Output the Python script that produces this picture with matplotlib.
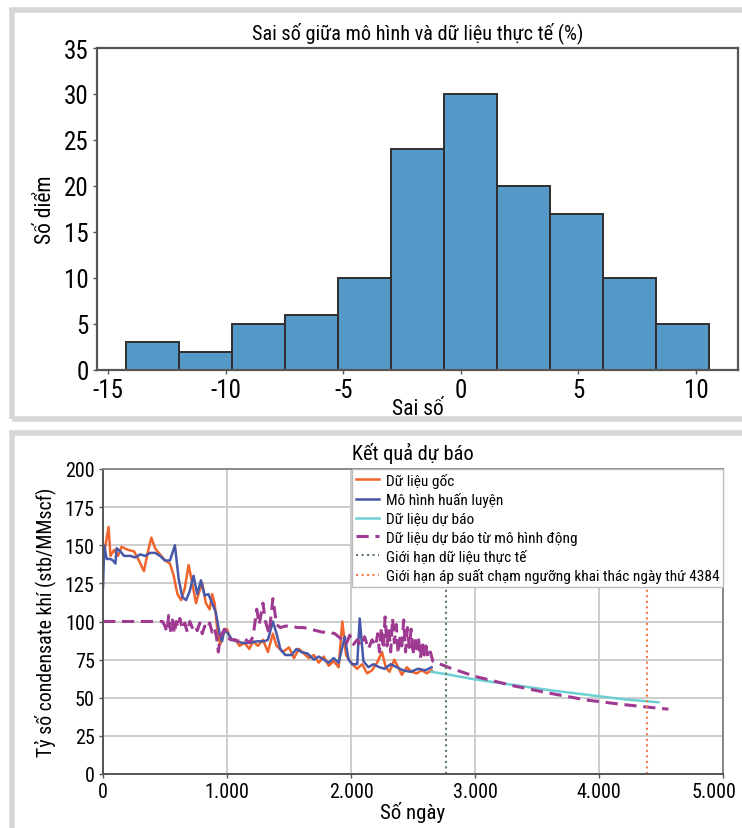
import matplotlib
matplotlib.use("Agg")
import matplotlib.pyplot as plt
from matplotlib import font_manager
from matplotlib.patches import Rectangle
from matplotlib.ticker import FuncFormatter
from matplotlib.transforms import ScaledTranslation

# pick a narrow sans face when one is installed
_fonts = font_manager.fontManager.ttflist
_family, _stretch = 'DejaVu Sans', 'normal'
for cand in ['Liberation Sans Narrow', 'Roboto Condensed', 'Open Sans Condensed',
             'Noto Sans Condensed', 'DejaVu Sans Condensed']:
    if any(f.name == cand for f in _fonts):
        _family = cand
        break
else:
    for fam in ['DejaVu Sans', 'Noto Sans', 'Open Sans', 'Roboto']:
        if any(f.name == fam and f.stretch in ('condensed', 'semi-condensed', 'extra-condensed', 75, 87.5)
               for f in _fonts):
            _family, _stretch = fam, 'condensed'
            break
plt.rcParams['font.family'] = [_family, 'DejaVu Sans']
plt.rcParams['font.stretch'] = _stretch
plt.rcParams['axes.unicode_minus'] = False

# ---- Histogram of model error (%) ----
err_edges = [-14.23, -11.98, -9.73, -7.47, -5.22, -2.97, -0.71, 1.54, 3.79, 6.04, 8.30, 10.55]
err_counts = [3, 2, 5, 6, 10, 24, 30, 20, 17, 10, 5]

# ---- Forecast results ----
orig_days = [0, 20, 45, 60, 90, 120, 150, 200, 250, 290, 330, 360, 390, 420, 460, 500, 540, 570,
             600, 630, 660, 690, 720, 750, 770, 800, 830, 860, 880, 900, 920, 945, 970, 1000, 1030,
             1070, 1100, 1140, 1180, 1210, 1250, 1290, 1330, 1370, 1400, 1450, 1500, 1540, 1580,
             1620, 1660, 1700, 1740, 1780, 1820, 1860, 1900, 1930, 1960, 2010, 2050, 2090, 2130,
             2170, 2210, 2250, 2280, 2310, 2350, 2380, 2410, 2450, 2490, 2530, 2570, 2610, 2650]
orig_vals = [140, 150, 162, 143, 147, 143, 149, 147, 146, 140, 133, 145, 155, 148, 144, 140, 138, 130,
             118, 114, 122, 137, 125, 112, 118, 125, 112, 108, 118, 112, 96, 85, 92, 95, 88,
             88, 84, 86, 82, 87, 84, 88, 80, 92, 84, 80, 83, 76, 82,
             79, 76, 78, 73, 77, 71, 74, 70, 100, 78, 72, 69, 72, 66,
             68, 73, 80, 70, 67, 75, 70, 65, 70, 67, 66, 68, 66, 68]

model_days = [0, 10, 30, 60, 80, 100, 110, 140, 170, 220, 260, 300, 340, 380, 420, 460, 500, 540,
              580, 610, 640, 670, 700, 730, 760, 790, 820, 850, 880, 910, 940, 960, 980, 1010,
              1040, 1080, 1120, 1180, 1240, 1300, 1330, 1370, 1400, 1430, 1470, 1520, 1560, 1600,
              1650, 1700, 1740, 1780, 1820, 1860, 1900, 1950, 1980, 2010, 2050, 2070, 2100, 2140,
              2180, 2230, 2270, 2320, 2370, 2420, 2480, 2540, 2600, 2650]
model_vals = [122, 150, 141, 141, 140, 138, 148, 146, 143, 143, 142, 144, 143, 145, 145, 143, 140, 140,
              150, 128, 116, 114, 120, 130, 118, 127, 117, 118, 112, 106, 92, 87, 95, 92,
              88, 87, 86, 86, 87, 87, 88, 100, 92, 82, 78, 78, 82, 80,
              79, 75, 77, 75, 73, 76, 73, 90, 75, 72, 72, 102, 74, 70,
              72, 70, 69, 72, 70, 68, 67, 69, 68, 70]

fcst_days = [2650, 2800, 3000, 3300, 3600, 3900, 4200, 4480]
fcst_vals = [67, 65, 62, 58.5, 55, 52, 49, 47]

dyn_days = [0, 100, 200, 300, 400, 480, 500, 515, 530, 545, 560, 575, 590, 605, 620, 640, 660,
            680, 700, 720, 740, 760, 780, 800, 820, 840, 860, 880, 900, 915, 930, 945, 960, 980,
            1000, 1030, 1060, 1100, 1140, 1180, 1210, 1240, 1260, 1290, 1310, 1340, 1370, 1400,
            1430, 1470, 1520, 1570, 1620, 1670, 1720, 1770, 1820, 1870, 1900, 1930, 1960, 1990,
            2020, 2050, 2080, 2110, 2140, 2170, 2200, 2215, 2230, 2245, 2260, 2275, 2290, 2305,
            2320, 2335, 2350, 2365, 2380, 2395, 2410, 2425, 2440, 2455, 2470, 2485, 2500, 2515,
            2530, 2545, 2560, 2575, 2590, 2605, 2620, 2640, 2660, 2800, 3000, 3300, 3600, 3900,
            4200, 4400, 4560]
dyn_vals = [100, 100, 100, 100, 100, 100, 97, 93, 104, 94, 101, 92, 100, 96, 102, 95, 99,
            93, 100, 96, 98, 94, 99, 92, 97, 95, 99, 93, 96, 90, 80, 90, 92, 95,
            90, 88, 88, 87, 89, 86, 90, 108, 98, 112, 100, 92, 115, 98,
            96, 97, 97, 96, 96, 95, 94, 93, 93, 92, 90, 88, 85, 91,
            85, 88, 84, 90, 82, 88, 84, 92, 80, 96, 82, 103, 84, 95,
            80, 102, 86, 98, 79, 90, 84, 101, 80, 96, 83, 95, 78, 90,
            82, 88, 76, 87, 78, 84, 76, 80, 74, 69.5, 64, 58, 53, 48.5,
            45.5, 43.8, 42.5]

data_limit_day = 2766
pressure_limit_day = 4384

W, H = 742, 829
fig = plt.figure(figsize=(W / 100, H / 100), dpi=100)

# light grey panel frames
frame_kw = dict(transform=fig.transFigure, fill=False, edgecolor='#d6d6d6', linewidth=4.0,
                clip_on=False)
fig.patches.append(Rectangle((12 / W, 1 - 420 / H), (760 - 12) / W, (420 - 11) / H, **frame_kw))
fig.patches.append(Rectangle((12 / W, 1 - 860 / H), (760 - 12) / W, (860 - 434) / H, **frame_kw))

spine_col = '#555555'

# ---------- top panel ----------
ax1 = fig.add_axes([97 / W, 1 - 371 / H, (738 - 97) / W, (371 - 49) / H])
centers = [(a + b) / 2 for a, b in zip(err_edges[:-1], err_edges[1:])]
ax1.hist(centers, bins=err_edges, weights=err_counts, color='#5599c8',
         edgecolor='#2e2e2e', linewidth=1.4)
ax1.set_ylim(0, 35)
ax1.set_yticks(range(0, 36, 5))
ax1.set_xticks([-15, -10, -5, 0, 5, 10])
ax1.set_title('Sai số giữa mô hình và dữ liệu thực tế (%)', fontsize=14.6, pad=7)
ax1.set_xlabel('Sai số', fontsize=15.5, labelpad=-3)
ax1.set_ylabel('Số diểm', fontsize=15.5, labelpad=6)
ax1.tick_params(labelsize=18, length=3, width=1, color=spine_col, pad=3)
for s in ax1.spines.values():
    s.set_color(spine_col)
    s.set_linewidth(1.6)

# ---------- bottom panel ----------
ax2 = fig.add_axes([103 / W, 1 - 775 / H, (723 - 103) / W, (775 - 470) / H])
ax2.grid(True, color='#c8c8c8', linewidth=1.3)
ax2.set_axisbelow(True)
ax2.plot(orig_days, orig_vals, color='#f0642d', linewidth=1.8, label='Dữ liệu gốc')
ax2.plot(model_days, model_vals, color='#4858a8', linewidth=1.8, label='Mô hình huấn luyện')
ax2.plot(fcst_days, fcst_vals, color='#6dcfd2', linewidth=1.8, label='Dữ liệu dự báo')
ax2.plot(dyn_days, dyn_vals, color='#9e3a92', linewidth=2.2, linestyle=(0, (4, 2.2)),
         label='Dữ liệu dự báo từ mô hình động')
ax2.axvline(data_limit_day, color='#5b7d62', linewidth=1.5, linestyle=':',
            label='Giới hạn dữ liệu thực tế')
ax2.axvline(pressure_limit_day, color='#f07a4a', linewidth=1.5, linestyle=':',
            label='Giới hạn áp suất chạm ngưỡng khai thác ngày thứ 4384')
ax2.set_xlim(0, 5000)
ax2.set_ylim(0, 200)
ax2.set_xticks(range(0, 5001, 1000))
ax2.set_yticks(range(0, 201, 25))
ax2.xaxis.set_major_formatter(FuncFormatter(lambda v, p: f'{int(v):,}'.replace(',', '.')))
ax2.set_title('Kết quả dự báo', fontsize=14.7, pad=7)
ax2.set_xlabel('Số ngày', fontsize=15, labelpad=0)
ax2.set_ylabel('Tỷ số condensate khí (stb/MMscf)', fontsize=14.3, labelpad=6)
ax2.tick_params(labelsize=14.5, length=3, width=1, color=spine_col, pad=3)
for s in ax2.spines.values():
    s.set_color('#888888')
    s.set_linewidth(1.4)
ax2.spines['left'].set_color(spine_col)
ax2.spines['bottom'].set_color(spine_col)

# keep the last x tick label inside the figure edge
last_lbl = ax2.xaxis.get_major_ticks()[-1].label1
last_lbl.set_transform(last_lbl.get_transform() + ScaledTranslation(-0.09, 0, fig.dpi_scale_trans))

leg = ax2.legend(loc='upper right', fontsize=11.1, frameon=True, fancybox=False,
                 framealpha=1, edgecolor='#bbbbbb', borderpad=0.25, labelspacing=0.3,
                 handlelength=1.5, handletextpad=0.4, borderaxespad=0.0)
leg.get_frame().set_linewidth(1.0)

fig.savefig('out.png', dpi=100)
